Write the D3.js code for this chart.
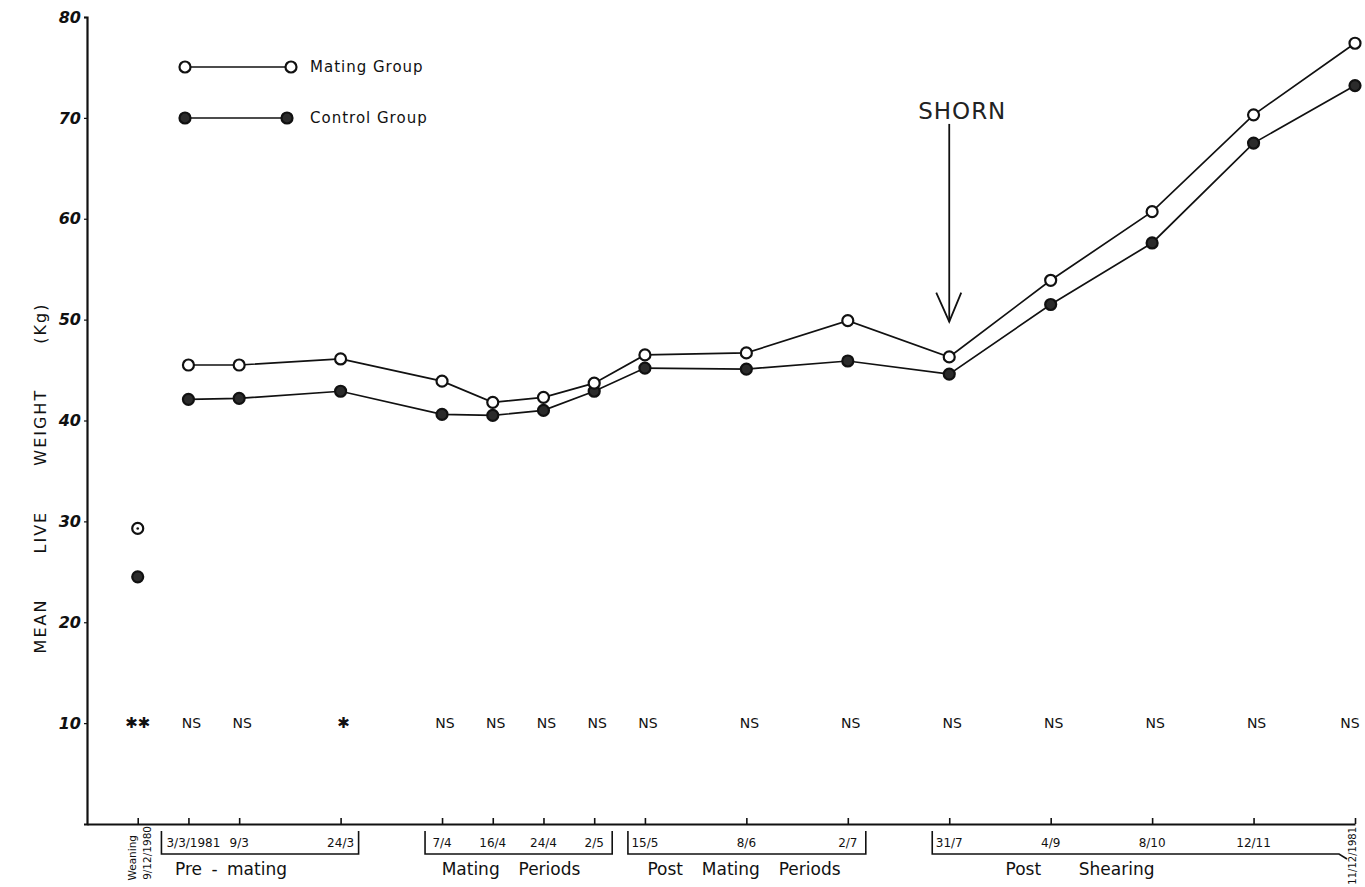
<!DOCTYPE html>
<html><head><meta charset="utf-8">
<script src="https://cdn.jsdelivr.net/npm/d3@7"></script>
<style>
html,body{margin:0;padding:0;background:#fff;}
svg{display:block;font-family:"DejaVu Sans",sans-serif;}
</style>
</head><body>
<svg id="c" width="1365" height="887"></svg>
<script>
// ---------------- DATA ----------------
const dates = ["Weaning|9/12/1980","3/3/1981","9/3","24/3","7/4","16/4","24/4","2/5","15/5","8/6","2/7","31/7","4/9","8/10","12/11","11/12/1981"];
const slots = [0,1,2,4,6,7,8,9,10,12,14,16,18,20,22,24];
const mating  = [29.3,45.5,45.5,46.1,43.9,41.8,42.3,43.7,46.5,46.7,49.9,46.3,53.9,60.7,70.3,77.4];
const control = [24.5,42.1,42.2,42.9,40.6,40.5,41.0,42.9,45.2,45.1,45.9,44.6,51.5,57.6,67.5,73.2];
const significance = ["✱✱","NS","NS","✱","NS","NS","NS","NS","NS","NS","NS","NS","NS","NS","NS","NS"];
const significanceLevel = 10;
const yTicks = [10,20,30,40,50,60,70,80];
const seriesNames = ["Mating Group","Control Group"];
const periodNames = ["Pre - mating","Mating  Periods","Post  Mating  Periods","Post    Shearing"];
const periodFirst = [1,4,8,11];
const periodLast  = [3,7,10,15];
const annotationText = "SHORN";
const annotationIndex = 11;
const annotationFrom = 69.4, annotationTo = 49.8;
const yTitle = "MEAN LIVE WEIGHT (Kg)";

// ---------------- LAYOUT ----------------
const svg = d3.select("#c");
const x = d3.scaleLinear().domain([-1,24]).range([87,1355]);
const y = d3.scaleLinear().domain([0,80]).range([824,17]);
const y0 = y(0);
const ink = "#111";

// axes
const yAxis = svg.append("g").attr("transform",`translate(${x(-1)},0)`)
  .call(d3.axisLeft(y).tickValues(yTicks).tickSize(3).tickPadding(3));
yAxis.select(".domain").attr("stroke",ink).attr("stroke-width",2.2);
yAxis.selectAll(".tick line").attr("stroke",ink).attr("stroke-width",1.2);
yAxis.selectAll("text").attr("font-size",16).attr("font-weight",600).attr("fill",ink)
  .attr("font-family","DejaVu Sans").attr("font-style","italic");

const xAxis = svg.append("g").attr("transform",`translate(0,${y0})`)
  .call(d3.axisBottom(x).tickValues(slots).tickSizeInner(-6).tickSizeOuter(0).tickFormat(""));
xAxis.select(".domain").attr("stroke",ink).attr("stroke-width",2.2);
xAxis.selectAll(".tick line").attr("stroke",ink).attr("stroke-width",1.6);

// y title
svg.append("text")
  .attr("transform",`translate(46,478) rotate(-90)`)
  .attr("text-anchor","middle").attr("font-size",16).attr("fill",ink)
  .attr("letter-spacing",2).attr("word-spacing",38)
  .text(yTitle);

// tick labels
dates.forEach((d,i)=>{
  const xi = x(slots[i]);
  if (i===0) {
    const parts = d.split("|");
    svg.append("text").attr("transform",`translate(${xi-2},835) rotate(-90)`)
      .attr("text-anchor","end").attr("font-size",10.5).attr("fill",ink).text(parts[0]);
    svg.append("text").attr("transform",`translate(${xi+13},826) rotate(-90)`)
      .attr("text-anchor","end").attr("font-size",10.5).attr("fill",ink).text(parts[1]);
  } else if (i===dates.length-1) {
    svg.append("text").attr("transform",`translate(${xi+1},827) rotate(-90)`)
      .attr("text-anchor","end").attr("font-size",10).attr("fill",ink).text(d);
  } else {
    svg.append("text").attr("class","tl").attr("x",xi + (i===1?5:0)).attr("y",y0+23)
      .attr("text-anchor","middle").attr("font-size",12).attr("fill",ink).text(d);
  }
});

// period brackets
const periodLabelX = [231, 511, 744, 1080];
periodNames.forEach((p,k)=>{
  const f = periodFirst[k], l = periodLast[k];
  const left = x(slots[f]) - (f===1 ? 27 : 17);
  const top = y0+7, bot = y0+30;
  let path;
  if (l === dates.length-1) {
    const r = x(slots[l]) - 16;
    path = `M${left},${top}V${bot}H${r}L${r+8},${bot+5}`;
  } else {
    const r = x(slots[l]) + 18;
    path = `M${left},${top}V${bot}H${r}V${top}`;
  }
  svg.append("path").attr("d",path).attr("fill","none").attr("stroke",ink).attr("stroke-width",1.6);
  svg.append("text").attr("x",periodLabelX[k]).attr("y",y0+51)
    .attr("text-anchor","middle").attr("font-size",17).attr("fill",ink)
    .attr("word-spacing",4).style("white-space","pre").text(p);
});

// significance
significance.forEach((s,i)=>{
  const sx = Math.min(x(slots[i])+(i===0?0:3), 1350);
  svg.append("text").attr("x",sx).attr("y",y(significanceLevel)+5)
    .attr("text-anchor","middle").attr("font-size",s.includes("✱")?15:14)
    .attr("fill",ink).text(s);
});

// lines
const line = d3.line().x(d=>x(d[0])).y(d=>y(d[1]));
const mPts = slots.map((s,i)=>[s,mating[i]]);
const cPts = slots.map((s,i)=>[s,control[i]]);
[cPts, mPts].forEach(pts=>{
  svg.append("path").attr("d",line(pts.slice(1))).attr("fill","none")
    .attr("stroke",ink).attr("stroke-width",1.7);
});

// markers
function marker(g, cx, cy, filled){
  g.append("circle").attr("cx",cx).attr("cy",cy).attr("r",5.5)
    .attr("fill",filled?"#2b2b2b":"#fff").attr("stroke",ink).attr("stroke-width",2.2);
}
cPts.forEach(p=>marker(svg,x(p[0]),y(p[1]),true));
mPts.forEach(p=>marker(svg,x(p[0]),y(p[1]),false));
svg.append("circle").attr("cx",x(mPts[0][0])).attr("cy",y(mPts[0][1])).attr("r",1.3).attr("fill",ink);

// legend
const legY = [67,118];
seriesNames.forEach((n,k)=>{
  const x1 = 185, x2 = k===0?291:287;
  svg.append("line").attr("x1",x1).attr("x2",x2).attr("y1",legY[k]).attr("y2",legY[k])
    .attr("stroke",ink).attr("stroke-width",1.5);
  marker(svg,x1,legY[k],k===1);
  marker(svg,x2,legY[k],k===1);
  svg.append("text").attr("x",310).attr("y",legY[k]+5).attr("font-size",15)
    .attr("fill",ink).attr("letter-spacing",1).text(n);
});

// annotation
const ax = x(slots[annotationIndex]);
svg.append("text").attr("x",ax+13).attr("y",119).attr("text-anchor","middle")
  .attr("font-size",23).attr("fill","#222").attr("letter-spacing",1).text(annotationText);
svg.append("line").attr("x1",ax).attr("x2",ax).attr("y1",y(annotationFrom)).attr("y2",y(annotationTo))
  .attr("stroke",ink).attr("stroke-width",1.8);
svg.append("path").attr("d",`M${ax-13},${y(annotationTo)-29}L${ax},${y(annotationTo)}L${ax+12},${y(annotationTo)-29}`)
  .attr("fill","none").attr("stroke",ink).attr("stroke-width",1.8);
</script>
</body></html>
